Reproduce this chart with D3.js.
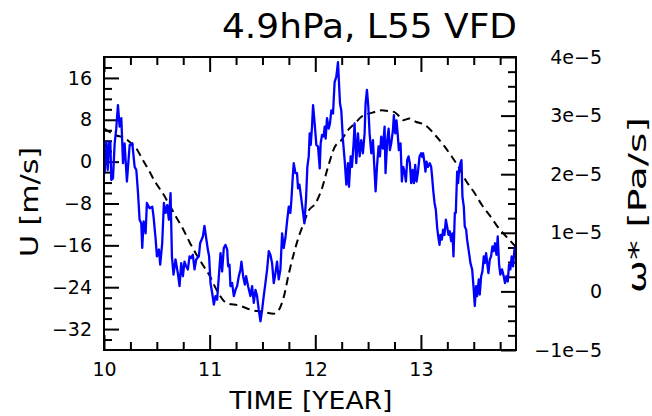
<!DOCTYPE html>
<html>
<head>
<meta charset="utf-8">
<script src="https://cdn.jsdelivr.net/npm/d3@7"></script>
<style>
  html, body { margin: 0; padding: 0; background: #fff; }
  svg { display: block; }
  text { font-family: "DejaVu Sans", sans-serif; fill: #000; }
</style>
</head>
<body>
<svg id="chart" width="652" height="416"></svg>
<script>
// ---------------- data ----------------
const titleText = "4.9hPa, L55 VFD";
const xTitle = "TIME [YEAR]";
const yLeftTitle = "U [m/s]";
const yRightTitle = "ω* [Pa/s]";

const xTicks = [10, 11, 12, 13];
const yLeftTicks = [-32, -24, -16, -8, 0, 8, 16];
const yRightTicks = [-1e-5, 0, 1e-5, 2e-5, 3e-5, 4e-5];
const yRightTickLabels = ["−1e−5", "0", "1e−5", "2e−5", "3e−5", "4e−5"];

// U (blue, left axis) - time in years
const timeU = [
 10.000,10.006,10.022,10.035,10.047,10.060,10.069,10.085,10.101,10.116,10.132,10.148,10.164,10.180,10.195,10.217,10.243,10.268,10.290,10.306,
 10.321,10.337,10.353,10.362,10.375,10.394,10.406,10.432,10.457,10.469,10.488,10.501,10.520,10.532,10.551,10.567,10.583,10.599,10.614,10.630,
 10.643,10.658,10.677,10.699,10.715,10.731,10.747,10.762,10.778,10.794,10.810,10.825,10.841,10.857,10.873,10.898,10.910,10.936,10.951,10.967,
 10.983,10.995,11.008,11.024,11.040,11.055,11.071,11.087,11.103,11.118,11.134,11.150,11.166,11.175,11.188,11.197,11.213,11.229,11.245,11.260,
 11.276,11.292,11.301,11.317,11.333,11.345,11.364,11.386,11.402,11.418,11.434,11.449,11.465,11.481,11.497,11.512,11.528,11.544,11.560,11.575,
 11.591,11.607,11.623,11.638,11.654,11.670,11.686,11.701,11.717,11.733,11.749,11.764,11.774,11.786,11.796,11.812,11.827,11.837,11.850,11.865,
 11.881,11.897,11.912,11.925,11.938,11.947,11.957,11.969,11.979,11.994,12.010,12.026,12.042,12.051,12.064,12.079,12.089,12.098,12.111,12.127,
 12.139,12.152,12.168,12.183,12.199,12.215,12.224,12.234,12.246,12.262,12.278,12.294,12.309,12.319,12.335,12.347,12.363,12.372,12.388,12.404,
 12.420,12.435,12.451,12.467,12.476,12.489,12.502,12.514,12.530,12.546,12.562,12.571,12.584,12.599,12.612,12.624,12.640,12.656,12.665,12.681,
 12.694,12.706,12.719,12.735,12.744,12.757,12.769,12.782,12.791,12.807,12.820,12.832,12.845,12.858,12.870,12.883,12.895,12.908,12.921,12.933,
 12.946,12.958,12.971,12.987,13.002,13.012,13.021,13.034,13.043,13.053,13.066,13.084,13.097,13.106,13.116,13.129,13.141,13.154,13.166,13.176,
 13.185,13.198,13.210,13.223,13.236,13.248,13.261,13.273,13.286,13.299,13.308,13.321,13.330,13.343,13.352,13.362,13.374,13.384,13.393,13.406,
 13.415,13.428,13.437,13.453,13.469,13.485,13.500,13.510,13.522,13.532,13.548,13.557,13.570,13.582,13.595,13.604,13.617,13.626,13.639,13.652,
 13.664,13.677,13.689,13.702,13.715,13.727,13.740,13.752,13.768,13.784,13.796,13.809,13.822,13.834,13.847,13.859,13.872,13.885,13.894
];
const valuesU = [
 -1.5,-2.2,3.8,-1.6,3.5,3.8,-3.5,-3.2,3.5,6.3,10.8,6.7,8.3,-0.3,3.5,-3.8,3.2,3.5,-1.0,-1.6,
 -5.7,-11.1,-11.8,-16.5,-11.4,-13.7,-7.9,-8.9,-8.6,-10.5,-14.6,-18.1,-16.8,-19.7,-15.6,-7.9,-9.8,-8.3,-11.1,-6.0,
 -18.1,-21.6,-18.7,-21.3,-23.8,-19.4,-21.9,-19.1,-20.0,-20.6,-18.1,-18.4,-17.8,-20.6,-18.7,-18.1,-15.6,-14.3,-12.3,-14.6,
 -16.8,-18.1,-23.2,-25.1,-27.3,-25.7,-26.4,-21.9,-17.5,-21.0,-16.5,-15.9,-16.8,-20.0,-19.7,-23.8,-23.2,-25.7,-24.5,-23.8,
 -21.9,-20.6,-19.1,-21.9,-23.5,-21.9,-23.8,-25.7,-23.8,-27.0,-24.5,-25.7,-28.3,-30.5,-28.3,-25.7,-23.2,-20.6,-17.1,-17.8,
 -19.4,-23.2,-21.3,-19.1,-22.5,-20.6,-13.7,-16.5,-14.6,-11.4,-8.6,-9.8,-7.3,-3.2,-0.3,-2.2,-2.2,-5.1,-4.4,-6.7,
 -9.2,-11.8,-7.3,-1.0,1.0,5.4,3.2,6.7,10.8,7.3,3.2,2.9,-1.3,3.5,5.1,4.8,6.7,4.4,8.3,6.3,
 7.3,9.8,9.2,15.2,16.2,19.0,15.2,11.1,9.8,4.1,0.3,-4.4,-0.3,-4.8,1.0,-1.0,3.5,7.3,-0.3,5.4,
 1.0,4.1,1.6,5.4,11.1,13.7,10.5,5.4,1.6,4.1,-2.2,-5.7,-1.0,2.9,1.0,4.8,2.5,6.7,-2.2,4.1,
 6.3,2.2,3.5,6.0,8.9,5.4,7.9,4.8,2.2,3.5,-3.8,-1.0,-1.9,-3.8,0.3,1.0,-0.3,-4.1,-1.6,-4.1,
 -0.6,-3.8,-2.2,1.0,1.6,0.9,1.6,-0.3,-1.9,0.0,-1.0,-0.3,-1.0,-2.9,-5.4,-7.9,-9.2,-12.7,-14.6,-15.9,
 -14.0,-14.9,-13.0,-14.0,-11.1,-12.4,-14.0,-13.3,-15.2,-13.7,-18.1,-9.8,-9.8,-1.9,-4.1,-1.3,-0.3,0.3,-6.7,-8.6,
 -12.4,-13.0,-14.9,-17.1,-19.4,-20.6,-24.5,-27.6,-23.8,-25.7,-22.5,-25.4,-21.9,-21.0,-18.1,-19.4,-17.5,-19.1,-21.3,-18.7,
 -18.1,-16.2,-17.1,-15.6,-17.8,-14.3,-19.7,-21.6,-20.6,-21.9,-23.2,-21.9,-22.9,-19.7,-20.6,-18.1,-20.0,-16.8,-16.2
];

// omega* (dashed, right axis)
const timeOmega = [
 10.000,10.054,10.116,10.180,10.243,10.305,10.369,10.432,10.494,10.558,10.621,10.683,10.747,10.810,10.872,10.936,10.999,11.065,11.160,11.276,
 11.402,11.512,11.607,11.654,11.701,11.749,11.796,11.843,11.890,11.938,12.001,12.058,12.120,12.183,12.247,12.309,12.372,12.436,12.498,12.561,
 12.625,12.687,12.750,12.798,12.829,12.892,12.956,13.015,13.060,13.138,13.216,13.296,13.358,13.422,13.500,13.579,13.658,13.736,13.816,13.894
];
const valuesOmega = [
 2.78e-5,2.72e-5,2.66e-5,2.63e-5,2.55e-5,2.44e-5,2.24e-5,2.04e-5,1.84e-5,1.67e-5,1.47e-5,1.27e-5,1.07e-5,0.84e-5,0.64e-5,0.45e-5,0.27e-5,0.03e-5,-0.20e-5,-0.24e-5,
 -0.32e-5,-0.35e-5,-0.38e-5,-0.32e-5,-0.10e-5,0.30e-5,0.64e-5,0.93e-5,1.16e-5,1.38e-5,1.50e-5,1.73e-5,2.12e-5,2.46e-5,2.58e-5,2.75e-5,2.86e-5,2.98e-5,3.03e-5,3.06e-5,
 3.09e-5,3.08e-5,3.06e-5,2.98e-5,2.92e-5,2.95e-5,2.89e-5,2.86e-5,2.81e-5,2.66e-5,2.49e-5,2.29e-5,2.12e-5,1.90e-5,1.70e-5,1.47e-5,1.28e-5,1.08e-5,0.92e-5,0.77e-5
];

// ---------------- chart ----------------
const svg = d3.select("#chart");
const L = 104, R = 516, T = 57, B = 350;

const x = d3.scaleLinear().domain([10, 13.9]).range([L, R]);
const yL = d3.scaleLinear().domain([-36, 20]).range([B, T]);
const yR = d3.scaleLinear().domain([-1e-5, 4e-5]).range([B, T]);

svg.append("defs").append("clipPath").attr("id", "clip")
  .append("rect").attr("x", L).attr("y", T).attr("width", R - L).attr("height", B - T);

const MAJ = 15, MIN = 8;
const xMinor = d3.range(10.25, 13.9, 0.25).filter(v => Math.abs(v - Math.round(v)) > 1e-6);
const yLMinor = d3.range(-34, 20, 2).filter(v => v % 8 !== 0);
const yRMinor = d3.range(-4, 16, 1).filter(v => v % 4 !== 0).map(v => v * 0.25e-5);

function styleAxis(g) {
  g.select(".domain").remove();
  g.selectAll(".tick line").attr("stroke", "#000").attr("stroke-width", 2);
  g.selectAll(".tick text").style("font-size", "19px").style("font-family", "'DejaVu Sans', sans-serif");
}

// bottom axis
svg.append("g").attr("transform", `translate(0,${B})`)
  .call(d3.axisBottom(x).tickValues(xMinor).tickSizeInner(-MIN).tickSizeOuter(0).tickFormat(""))
  .call(styleAxis);
svg.append("g").attr("transform", `translate(0,${B})`)
  .call(d3.axisBottom(x).tickValues(xTicks).tickSizeInner(-MAJ).tickSizeOuter(0).tickPadding(13).tickFormat(d3.format("d")))
  .call(styleAxis);
// top axis
svg.append("g").attr("transform", `translate(0,${T})`)
  .call(d3.axisTop(x).tickValues(xMinor).tickSizeInner(-MIN).tickSizeOuter(0).tickFormat(""))
  .call(styleAxis);
svg.append("g").attr("transform", `translate(0,${T})`)
  .call(d3.axisTop(x).tickValues(xTicks).tickSizeInner(-MAJ).tickSizeOuter(0).tickFormat(""))
  .call(styleAxis);
// left axis
svg.append("g").attr("transform", `translate(${L},0)`)
  .call(d3.axisLeft(yL).tickValues(yLMinor).tickSizeInner(-MIN).tickSizeOuter(0).tickFormat(""))
  .call(styleAxis);
svg.append("g").attr("transform", `translate(${L},0)`)
  .call(d3.axisLeft(yL).tickValues(yLeftTicks).tickSizeInner(-MAJ).tickSizeOuter(0).tickPadding(12).tickFormat(d3.format("d")))
  .call(styleAxis);
// right axis
svg.append("g").attr("transform", `translate(${R},0)`)
  .call(d3.axisRight(yR).tickValues(yRMinor).tickSizeInner(-MIN).tickSizeOuter(0).tickFormat(""))
  .call(styleAxis);
const rAx = svg.append("g").attr("transform", `translate(${R},0)`)
  .call(d3.axisRight(yR).tickValues(yRightTicks).tickSizeInner(-MAJ).tickSizeOuter(0)
        .tickFormat((d, i) => yRightTickLabels[i]))
  .call(styleAxis);
rAx.selectAll(".tick text").attr("text-anchor", "end").attr("x", 86);

// dashed omega line
svg.append("path")
  .datum(timeOmega.map((t, i) => [t, valuesOmega[i]]))
  .attr("clip-path", "url(#clip)")
  .attr("fill", "none").attr("stroke", "#000").attr("stroke-width", 2)
  .attr("stroke-dasharray", "8,5")
  .attr("d", d3.line().x(d => x(d[0])).y(d => yR(d[1])).curve(d3.curveMonotoneX));

// blue U line
svg.append("path")
  .datum(timeU.map((t, i) => [t, valuesU[i]]))
  .attr("clip-path", "url(#clip)")
  .attr("fill", "none").attr("stroke", "#0000ff").attr("stroke-width", 2.3)
  .attr("stroke-linejoin", "round")
  .attr("d", d3.line().x(d => x(d[0])).y(d => yL(d[1])));

// frame
svg.append("rect").attr("x", L).attr("y", T).attr("width", R - L).attr("height", B - T)
  .attr("fill", "none").attr("stroke", "#000").attr("stroke-width", 2);

// title
svg.append("text").attr("x", 517).attr("y", 38).attr("text-anchor", "end")
  .attr("textLength", 295).attr("lengthAdjust", "spacingAndGlyphs")
  .style("font-size", "34px").text(titleText);

// x title
svg.append("text").attr("x", 311).attr("y", 409).attr("text-anchor", "middle")
  .attr("textLength", 163).attr("lengthAdjust", "spacingAndGlyphs")
  .style("font-size", "24px").text(xTitle);

// left y title
svg.append("text").attr("transform", "translate(38,202) rotate(-90)")
  .attr("text-anchor", "middle")
  .attr("textLength", 110).attr("lengthAdjust", "spacingAndGlyphs")
  .style("font-size", "24px").text(yLeftTitle);

// right y title
svg.append("text").attr("transform", "translate(646,205) rotate(-90)")
  .attr("text-anchor", "middle")
  .attr("textLength", 176).attr("lengthAdjust", "spacingAndGlyphs")
  .style("font-size", "25px").text(yRightTitle);
</script>
</body>
</html>
